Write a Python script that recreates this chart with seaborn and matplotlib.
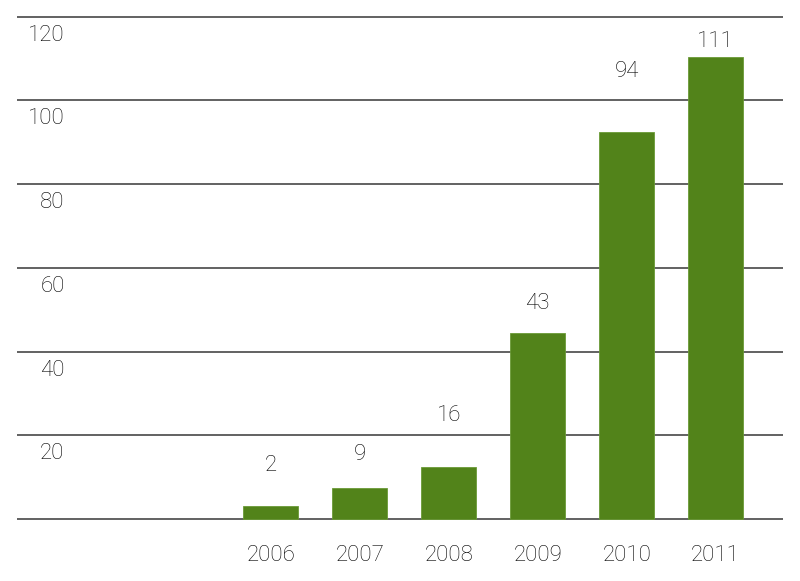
import numpy as np
import pandas as pd
import matplotlib
matplotlib.use("Agg")
import matplotlib.pyplot as plt
import seaborn as sns

# values
years = ["2006", "2007", "2008", "2009", "2010", "2011"]
bar_heights = [3.1, 7.5, 12.4, 44.4, 92.4, 110.3]
value_labels = ["2", "9", "16", "43", "94", "111"]
label_y = [12.9, 15.3, 24.7, 51.5, 106.8, 114.1]
y_ticks = [0, 20, 40, 60, 80, 100, 120]

sns.set_theme(style="white")
plt.rcParams["font.family"] = ["Roboto", "DejaVu Sans"]
plt.rcParams["font.weight"] = "light"

TXT = "#000000"
FS = 16
df = pd.DataFrame({"year": years, "value": bar_heights})

fig = plt.figure(figsize=(8, 5.81), dpi=100)
ax = fig.add_axes([0.0209, 0.1031, 0.958, 0.8718])

sns.barplot(data=df, x="year", y="value", color="#52831a", saturation=1,
            width=0.618, ax=ax, zorder=3, edgecolor="#6a9a36", linewidth=0.6)

ax.set_xlim(-2.855, 5.758)
ax.set_ylim(-0.5, 120.5)
sns.despine(ax=ax, left=True, bottom=True, top=True, right=True)

# horizontal rules
for t in y_ticks:
    ax.axhline(t, color="#555555", lw=1.3, zorder=2)

# y labels sit just below their rule, inside the plot
ax.set_yticks([])
for t in y_ticks[1:]:
    ax.annotate(str(t), xy=(0.0625, t), xycoords=("axes fraction", "data"),
                xytext=(0, -18.5), textcoords="offset pixels",
                ha="right", va="center", fontsize=FS, color=TXT,
                fontweight="light")

# value labels above bars
for i, (lab, y) in enumerate(zip(value_labels, label_y)):
    ax.text(i, y, lab, ha="center", va="center", fontsize=FS, color=TXT,
            fontweight="light")

ax.set_xlabel("")
ax.set_ylabel("")
ax.tick_params(axis="x", length=0, pad=17.5, labelsize=FS, colors=TXT)
for lbl in ax.get_xticklabels():
    lbl.set_fontweight("light")

fig.savefig("out.png", dpi=100)
